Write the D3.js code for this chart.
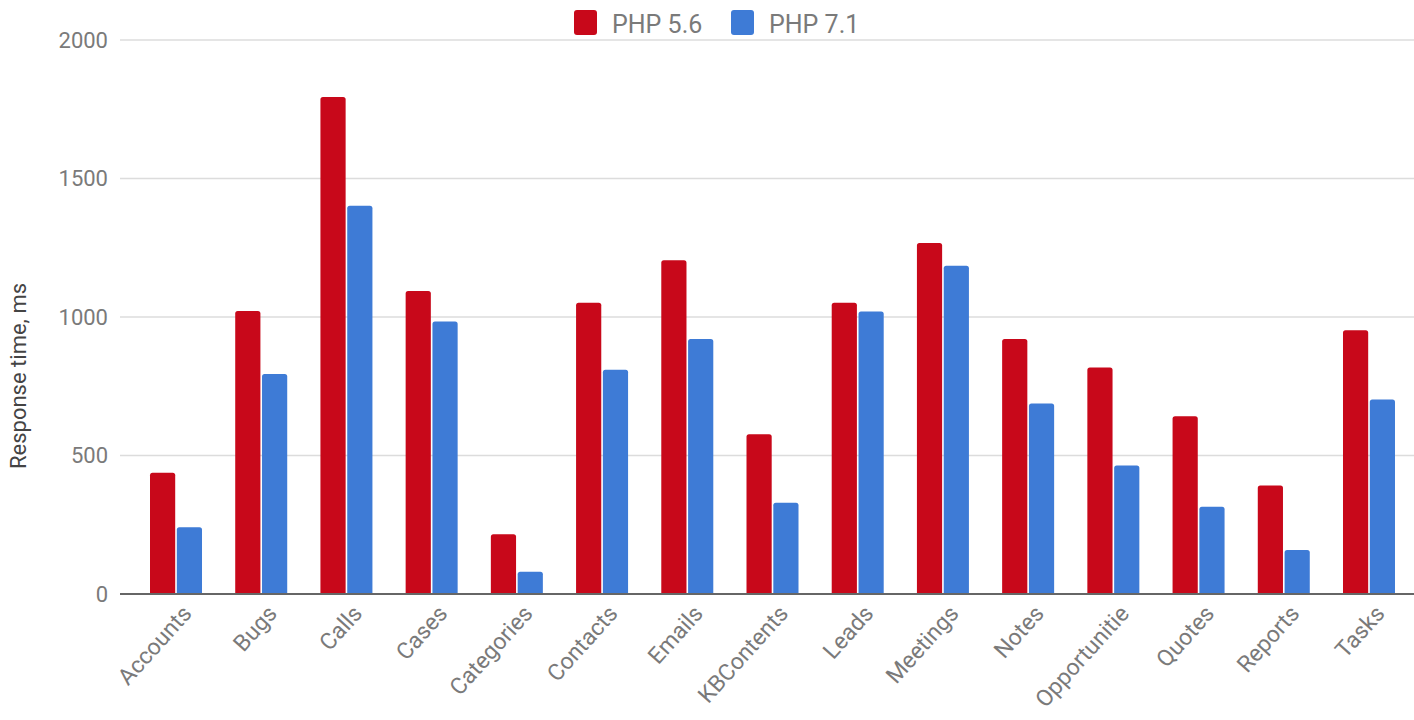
<!DOCTYPE html>
<html>
<head>
<meta charset="utf-8">
<script src="https://cdn.jsdelivr.net/npm/d3@7"></script>
<style>
  html, body { margin: 0; padding: 0; background: #fff; }
  svg { display: block; font-family: Roboto, "Noto Sans", sans-serif; }
</style>
</head>
<body>
<svg id="chart" width="1414" height="720"></svg>
<script>
const categories = ["Accounts","Bugs","Calls","Cases","Categories","Contacts","Emails","KBContents","Leads","Meetings","Notes","Opportunitie","Quotes","Reports","Tasks"];
const seriesNames = ["PHP 5.6","PHP 7.1"];
const php56 = [438,1022,1794,1094,216,1051,1205,577,1051,1267,921,818,642,392,952];
const php71 = [241,794,1402,984,80,810,921,329,1020,1185,688,464,315,159,702];
const yTicks = [0,500,1000,1500,2000];
const colors = ["#c8081a","#3e7bd6"];
const seriesValues = [php56, php71];

const svg = d3.select("#chart");
const W = 1414, H = 720;

const x = d3.scaleBand().domain(categories).range([133.4, 1411.6]).paddingInner(0).paddingOuter(0);
const xs = d3.scaleBand().domain(seriesNames).range([-26, 26]).paddingInner(0.06);
const y = d3.scaleLinear().domain([0, 2000]).range([594, 40]);

// gridlines
svg.append("g").selectAll("line").data(yTicks.filter(t => t > 0)).join("line")
  .attr("x1", 120).attr("x2", W)
  .attr("y1", d => y(d)).attr("y2", d => y(d))
  .attr("stroke", "#dcdcdc").attr("stroke-width", 1.6);

// y tick labels
svg.append("g").selectAll("text").data(yTicks).join("text")
  .attr("x", 108).attr("y", d => y(d)).attr("dy", "0.36em")
  .attr("text-anchor", "end")
  .attr("font-size", 22).attr("fill", "#7a7a7a")
  .text(d => d);

// y axis title
svg.append("text")
  .attr("transform", "translate(26,376) rotate(-90)")
  .attr("text-anchor", "middle")
  .attr("font-size", 22).attr("fill", "#444")
  .text("Response time, ms");

// bars
const groups = svg.append("g").selectAll("g").data(categories).join("g")
  .attr("transform", d => `translate(${x(d) + x.bandwidth()/2},0)`);

groups.selectAll("path").data((d, i) => seriesNames.map((s, k) => ({s, v: seriesValues[k][i], k})))
  .join("path")
  .attr("fill", d => colors[d.k])
  .attr("d", d => {
    const x0 = xs(d.s), w = xs.bandwidth(), y0 = y(0), y1 = y(d.v), r = 2.5;
    return `M${x0},${y0} L${x0},${y1 + r} Q${x0},${y1} ${x0 + r},${y1} L${x0 + w - r},${y1} Q${x0 + w},${y1} ${x0 + w},${y1 + r} L${x0 + w},${y0} Z`;
  });

// baseline
svg.append("line")
  .attr("x1", 120).attr("x2", W).attr("y1", y(0)).attr("y2", y(0))
  .attr("stroke", "#666").attr("stroke-width", 2);

// category labels
svg.append("g").selectAll("text").data(categories).join("text")
  .attr("transform", d => `translate(${x(d) + x.bandwidth()/2 + 11},${609}) rotate(-48)`)
  .attr("text-anchor", "end")
  .attr("dy", "0.35em")
  .attr("font-size", 23).attr("fill", "#7a7a7a")
  .text(d => d);

// legend
const legend = svg.append("g");
const legendItems = [{name: seriesNames[0], color: colors[0], x: 574}, {name: seriesNames[1], color: colors[1], x: 731}];
const li = legend.selectAll("g").data(legendItems).join("g")
  .attr("transform", d => `translate(${d.x},10)`);
li.append("rect").attr("width", 23).attr("height", 25).attr("rx", 3).attr("fill", d => d.color);
li.append("text").attr("x", 38).attr("y", 23).attr("font-size", 25).attr("fill", "#7a7a7a")
  .text(d => d.name);
</script>
</body>
</html>
